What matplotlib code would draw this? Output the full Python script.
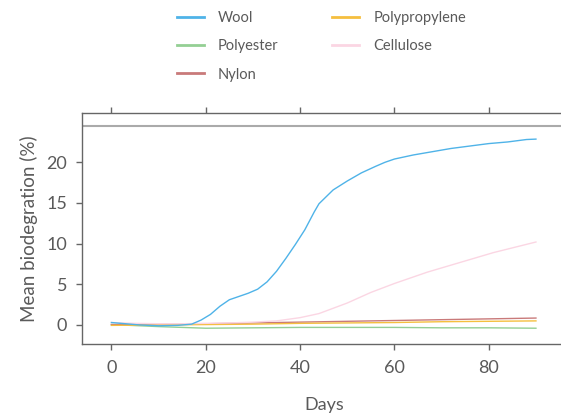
import matplotlib
matplotlib.use("Agg")
import matplotlib.pyplot as plt

plt.rcParams['font.family'] = ['Lato', 'DejaVu Sans']

# ---- data ----
wool_days = [0, 3, 6, 10, 14, 17, 19, 21, 23, 25, 27, 29, 31, 33, 35, 37, 39, 41, 43, 44,
             47, 50, 53, 56, 58, 60, 64, 68, 72, 76, 80, 84, 88, 90]
wool = [0.3, 0.15, 0.0, -0.1, -0.05, 0.1, 0.6, 1.3, 2.3, 3.1, 3.5, 3.9, 4.4, 5.3, 6.6, 8.2,
        9.9, 11.7, 13.9, 14.9, 16.6, 17.7, 18.7, 19.5, 20.0, 20.4, 20.9, 21.3, 21.7, 22.0,
        22.3, 22.5, 22.8, 22.85]

cell_days = [0, 5, 10, 15, 20, 25, 30, 35, 40, 44, 50, 55, 60, 67, 74, 81, 90]
cellulose = [0.3, 0.2, 0.15, 0.15, 0.2, 0.25, 0.35, 0.5, 0.9, 1.4, 2.7, 4.0, 5.1, 6.5,
             7.7, 8.9, 10.2]

base_days = [0, 10, 20, 30, 40, 50, 60, 70, 80, 90]
nylon = [0.05, 0.1, 0.15, 0.25, 0.35, 0.45, 0.55, 0.65, 0.75, 0.85]
polypropylene = [-0.05, 0.0, 0.05, 0.1, 0.2, 0.25, 0.3, 0.4, 0.45, 0.5]
polyester = [0.05, -0.2, -0.4, -0.35, -0.3, -0.3, -0.3, -0.35, -0.35, -0.4]

xticks = [0, 20, 40, 60, 80]
yticks = [0, 5, 10, 15, 20]
ref_level = 24.5

colors = {
    'Wool': '#4fb3e8',
    'Polyester': '#94cf94',
    'Nylon': '#c97a7a',
    'Polypropylene': '#f5bf3f',
    'Cellulose': '#fbd6e3',
}

fig = plt.figure(figsize=(5.61, 4.16), dpi=100)
ax = fig.add_axes([81.7 / 561, 1 - 344 / 416, 1 - 81.7 / 561 + 0.01, (344 - 113) / 416])

lw = 1.0
l1, = ax.plot(wool_days, wool, color=colors['Wool'], lw=lw, label='Wool', zorder=5)
l2, = ax.plot(base_days, polyester, color=colors['Polyester'], lw=lw, label='Polyester')
l3, = ax.plot(base_days, nylon, color=colors['Nylon'], lw=lw, label='Nylon')
l4, = ax.plot(base_days, polypropylene, color=colors['Polypropylene'], lw=lw, label='Polypropylene')
l5, = ax.plot(cell_days, cellulose, color=colors['Cellulose'], lw=lw, label='Cellulose')

ax.axhline(ref_level, color='#aaaaaa', lw=1.5)

ax.set_xlim(-6.3, 96.5)
ax.set_ylim(-2.34, 26.06)
ax.set_xticks(xticks)
ax.set_yticks(yticks)

grey = '#5a5a5a'
for s in ['left', 'top', 'bottom']:
    ax.spines[s].set_color('#666666')
    ax.spines[s].set_linewidth(1.0)
ax.spines['right'].set_visible(False)

ax.tick_params(axis='both', direction='out', length=4.5, width=1.0, color='#666666',
               labelcolor=grey, labelsize=13)
ax.tick_params(axis='x', top=True, labeltop=False, pad=7)
ax.tick_params(axis='y', pad=6)

ax.set_xlabel('Days', color=grey, fontsize=13, labelpad=15)
ax.set_ylabel('Mean biodegration (%)', color=grey, fontsize=13.5, labelpad=6)

leg = fig.legend(handles=[l1, l2, l3, l4, l5], ncol=2, loc='upper left',
                 bbox_to_anchor=(177 / 561, 1 - 11 / 416), frameon=False, fontsize=10.5,
                 handlelength=1.85, handletextpad=0.95, columnspacing=3.7,
                 labelspacing=0.98, borderpad=0, borderaxespad=0)
for line in leg.get_lines():
    line.set_linewidth(2.0)
for t in leg.get_texts():
    t.set_color(grey)

fig.savefig('out.png', dpi=100)
